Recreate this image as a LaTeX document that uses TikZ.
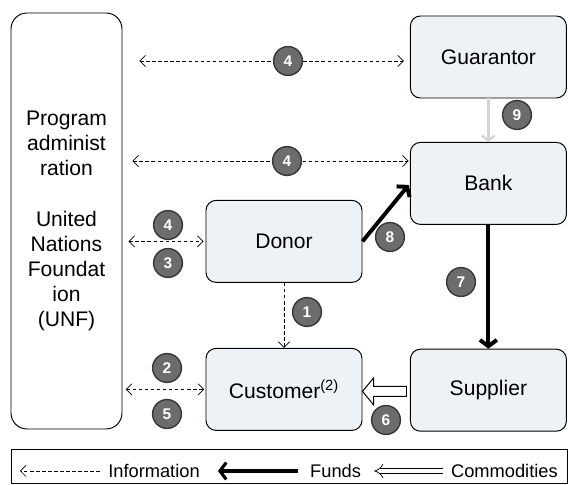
\documentclass[tikz,border=0pt]{standalone}
\usepackage{fontspec}
\setmainfont{Liberation Sans}
\usetikzlibrary{arrows.meta,calc}

\definecolor{boxfill}{RGB}{237,242,246}
\definecolor{badgefill}{RGB}{108,108,108}
\definecolor{badgeline}{RGB}{55,55,55}
\definecolor{guarline}{RGB}{212,212,212}

\begin{document}
\begin{tikzpicture}[
    >={Straight Barb[length=4pt,width=8pt]},
    actor/.style={draw, line width=0.7pt, fill=boxfill, rounded corners=0.25cm,
        minimum width=3.9cm, minimum height=2.05cm, inner sep=0pt,
        font=\fontsize{15}{18}\selectfont},
    badge/.style={circle, draw=badgeline, line width=1pt, fill=badgefill,
        minimum size=0.72cm, inner sep=0pt, text=white,
        font=\bfseries\fontsize{11}{12}\selectfont},
    info/.style={line width=0.5pt, dash pattern=on 2.5pt off 1.8pt},
    funds/.style={line width=2.8pt, -{Straight Barb[length=4.5pt,width=12pt]}},
    legtext/.style={inner sep=0pt, font=\fontsize{13}{15}\selectfont},
]
    \useasboundingbox (0,0) rectangle (14.2,12.125);

    % parties
    \node[draw, line width=0.7pt, rounded corners=0.4cm, minimum width=2.775cm,
        minimum height=10.4cm, inner sep=0pt, align=center,
        font=\fontsize{15}{17.8}\selectfont] (unf) at (1.6625,6.6)
        {Program\\administ\\ration\\[18pt]United\\Nations\\Foundat\\ion\\(UNF)};

    \node[actor] (guar) at (12.21,10.7) {Guarantor};
    \node[actor] (bank) at (12.21,7.54) {Bank};
    \node[actor] (donor) at (7.1,6.09) {Donor};
    \node[actor] (cust) at (7.1,2.39) {Customer\textsuperscript{(2)}};
    \node[actor] (supp) at (12.21,2.37) {Supplier};

    % information flows
    \draw[info, <->, shorten <=0.42cm, shorten >=0.15cm]
        ($(unf.east |- guar.west)+(0,-0.1)$) -- ($(guar.west)+(0,-0.1)$);
    \draw[info, <->, shorten <=0.25cm, shorten >=0.03cm]
        ($(unf.east |- bank.west)+(0,0.56)$) -- ($(bank.west)+(0,0.56)$);
    \draw[info, <->, shorten <=0.15cm, shorten >=0.05cm] (unf.east |- donor.west) -- (donor.west);
    \draw[info, <->, shorten <=0.08cm, shorten >=0.03cm] (unf.east |- cust.west) -- (cust.west);
    \draw[info, ->] (donor.south) -- (cust.north);

    % funds
    \draw[funds, shorten >=0.05cm] (donor.east) -- (bank.west);
    \draw[funds] (bank.south) -- (supp.north);
    \draw[line width=1.6pt, guarline, -{Straight Barb[length=3.5pt,width=9pt]}] (guar.south) -- (bank.north);

    % commodities
    \coordinate (ctip) at ($(cust.east)+(0,-0.05)$);
    \draw[line width=0.7pt, fill=white] (ctip) -- ++(0.28,0.34) -- ++(0,-0.215) -- ++(0.82,0)
        -- ++(0,-0.25) -- ++(-0.82,0) -- ++(0,-0.215) -- cycle;

    % step numbers
    \node[badge] (b4top) at (7.2,10.6) {4};
    \node[badge] (b4mid) at (7.175,8.1) {4};
    \node[badge] (b4don) at (4.2,6.5) {4};
    \node[badge] (b3) at (4.2,5.55) {3};
    \node[badge] (b2) at (4.175,2.925) {2};
    \node[badge] (b5) at (4.175,1.775) {5};
    \node[badge] (b1) at (7.675,4.325) {1};
    \node[badge] (b8) at (9.75,6.2) {8};
    \node[badge] (b9) at (12.925,9.25) {9};
    \node[badge] (b7) at (11.525,5.075) {7};
    \node[badge] (b6) at (9.65,1.625) {6};

    % legend
    \node[draw, line width=0.7pt, minimum width=13.9cm, minimum height=0.85cm,
        inner sep=0pt] (legend) at (7.225,0.475) {};
    \node[legtext] (linfo) at (3.85,0.35) {Information};
    \node[legtext] (lfunds) at (8.39,0.35) {Funds};
    \node[legtext] (lcomm) at (12.61,0.35) {Commodities};
    \coordinate (infotip) at (0.5,0.35);
    \draw[info, ->, shorten <=0.2cm] (linfo.west) -- (infotip);
    \draw[funds, line width=2.2pt, shorten <=0.3cm, shorten >=0.45cm] (lfunds.west) -- (linfo.east);
    \draw[double, double distance=3pt, line width=0.5pt, -Implies,
        shorten <=0.2cm, shorten >=0.32cm] (lcomm.west) -- (lfunds.east);
\end{tikzpicture}
\end{document}
